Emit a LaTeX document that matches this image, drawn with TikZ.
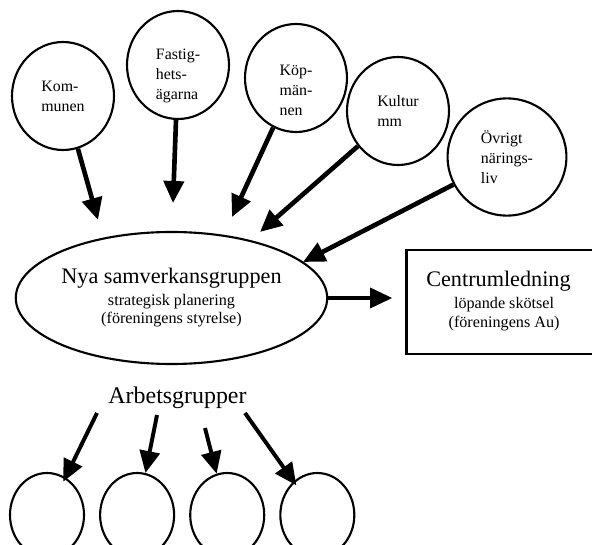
\documentclass[tikz,border=0pt]{standalone}
\usepackage{fontspec}
\setmainfont{Liberation Serif}
\usetikzlibrary{arrows.meta,positioning,shapes.geometric}

\begin{document}
\begin{tikzpicture}[x=0.25mm,y=-0.25mm,node distance=3.5mm,>={Triangle[length=5.5mm,width=5mm]},
 party/.style={draw,line width=1.5pt,ellipse,minimum width=25.5mm,minimum height=27mm,inner sep=0pt,align=left,font=\fontsize{11.3}{14.2}\selectfont},
 core/.style={draw,line width=1.5pt,ellipse,minimum width=73.3mm,minimum height=33mm,inner sep=0pt,align=center,font=\fontsize{11.5}{12.8}\selectfont},
 lead/.style={draw,line width=2.1pt,minimum width=52mm,minimum height=26mm,inner sep=0pt,font=\fontsize{11.5}{13.5}\selectfont},
 grp/.style={draw,line width=1.5pt,ellipse,minimum width=18.5mm,minimum height=21mm},
 a/.style={->,line width=3.3pt}]
 \clip (0,0) rectangle (592,545);
 % the parties on top
 \node[party] (kom) at (63,96) {Kom-\\munen};
 \node[party] (fast) at (178,65) {\rule{0pt}{8.2mm}Fastig-\\hets-\\ägarna};
 \node[party] (kop) at (296,78) {\rule{0pt}{8.8mm}Köp-\\män-\\nen};
 \node[party] (kult) at (398,111) {Kultur\\mm};
 \node[party,minimum width=29.7mm,minimum height=29.3mm] (ovr) at (507,157) {Övrigt\\närings-\\liv};
 % middle
 \node[core] (nya) at (171.5,298) {{\fontsize{15.8}{17}\selectfont Nya samverkansgruppen}\\[1mm]strategisk planering\\(föreningens styrelse)};
 \node[lead,anchor=west] (cent) at (405,302) {\begin{tabular}{@{}c@{\hspace{6mm}}}
  {\fontsize{15.8}{17}\selectfont Centrumledning}\\[0.7mm]
  \hspace{2.8mm}löpande skötsel\\
  \hspace{2.8mm}(föreningens Au)\end{tabular}};
 \node[font=\fontsize{17}{20}\selectfont] (arb) at (177.5,398) {Arbetsgrupper};
 % working groups
 \node[grp] (g1) at (47,515) {};
 \node[grp,right=of g1] (g2) {};
 \node[grp,right=of g2] (g3) {};
 \node[grp,right=of g3] (g4) {};
 \coordinate (t1) at (98,220);
 \coordinate (t2) at (173,203);
 \coordinate (t3) at (232,217);
 \coordinate (t4) at (260,232);
 \coordinate (t5) at (303,262);
 \coordinate (s1) at (97,413);
 \coordinate (s2) at (157,415);
 \coordinate (s3) at (205,428);
 \coordinate (s4) at (245,413);
 \draw[a] (kom)--(t1); \draw[a] (fast)--(t2); \draw[a] (kop)--(t3);
 \draw[a] (kult)--(t4); \draw[a] (ovr)--(t5);
 \draw[a,line width=2.3pt,shorten >=3.2mm] (nya.east)--(nya.east-|cent.west);
 \draw[a,line width=2.8pt,shorten >=-1.2mm] (s1)--(g1);
 \draw[a,line width=2.8pt] (s2)--(g2);
 \draw[a,line width=2.8pt] (s3)--(g3);
 \draw[a,line width=2.8pt,shorten >=-1.2mm] (s4)--(g4);
\end{tikzpicture}
\end{document}
